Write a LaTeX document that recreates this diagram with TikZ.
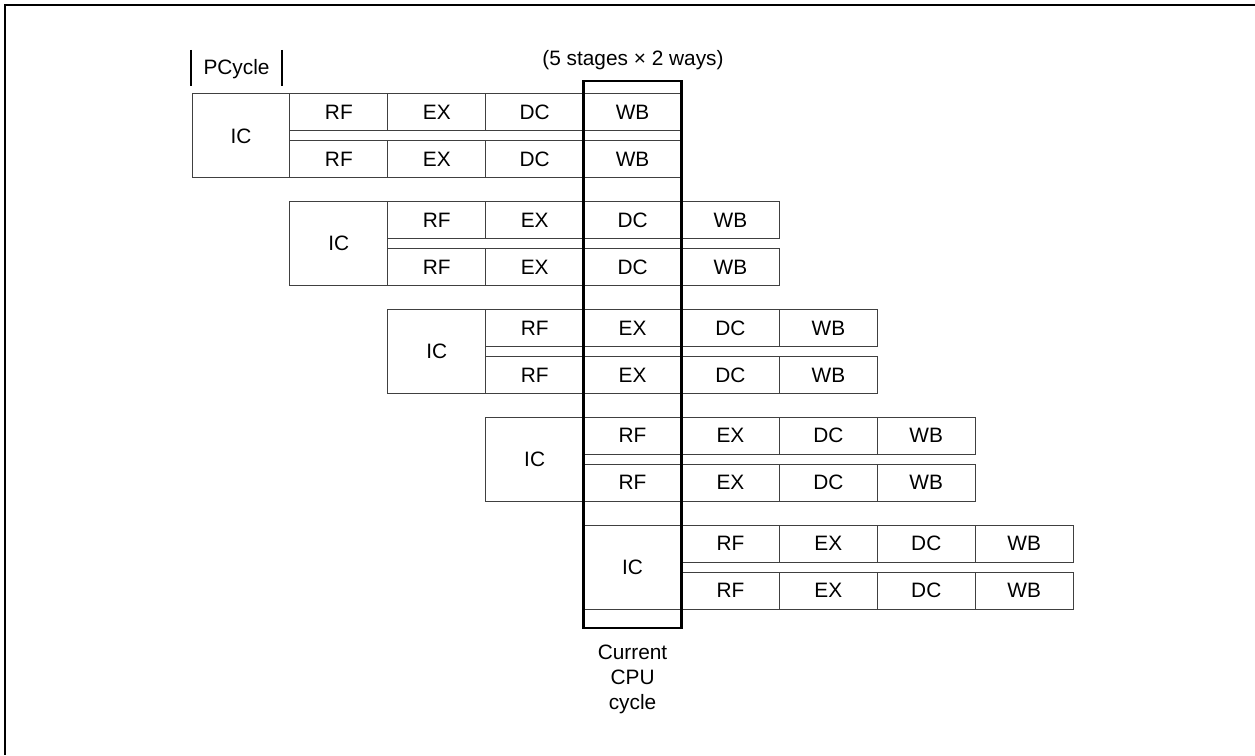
\documentclass[tikz,border=0pt]{standalone}
\usepackage{fontspec}
\setmainfont{Liberation Sans}
\usetikzlibrary{positioning}

\begin{document}
\begin{tikzpicture}
  [x=0.6pt,y=-0.6pt,
   font=\fontsize{12.5}{15}\selectfont,
   cellline/.style={draw=black!75,line width=0.6pt,inner sep=0pt},
   stagebox/.style={cellline,minimum width=58.74pt,minimum height=22.2pt},
   icbox/.style={cellline,minimum width=58.74pt,minimum height=50.4pt},
   curbox/.style={draw,line width=1.5pt,inner sep=0pt,
                  minimum width=58.74pt,minimum height=328.2pt}]
  \useasboundingbox (0,0) rectangle (1255,755);
  \draw[line width=1.2pt] (1255,5.5) -- (4.5,5.5) -- (4.5,755);
  % header
  \node (pcycle) at (236.5,69) {PCycle};
  \draw[line width=0.7pt] (191,50) -- (191,86);
  \draw[line width=0.7pt] (282,50) -- (282,86);
  \node (ways) at (633,60) {(5 stages × 2 ways)};
  % five instruction pairs
  \foreach \r in {0,...,4} {
    \node[icbox] (ic-\r) at ({240.95+97.9*\r},{136+107.75*\r}) {IC};
    \foreach \s [count=\k] in {RF,EX,DC,WB} {
      \node[stagebox] (\s-\r-a) at ({240.95+97.9*(\r+\k)},{112.5+107.75*\r}) {\s};
      \node[stagebox] (\s-\r-b) at ({240.95+97.9*(\r+\k)},{159.5+107.75*\r}) {\s};
    }
  }
  % current cycle
  \node[curbox] (cur) at (632.55,354.5) {};
  \node[align=center,below=5.6pt of cur] (curlabel) {Current\\CPU\\cycle};
\end{tikzpicture}
\end{document}
